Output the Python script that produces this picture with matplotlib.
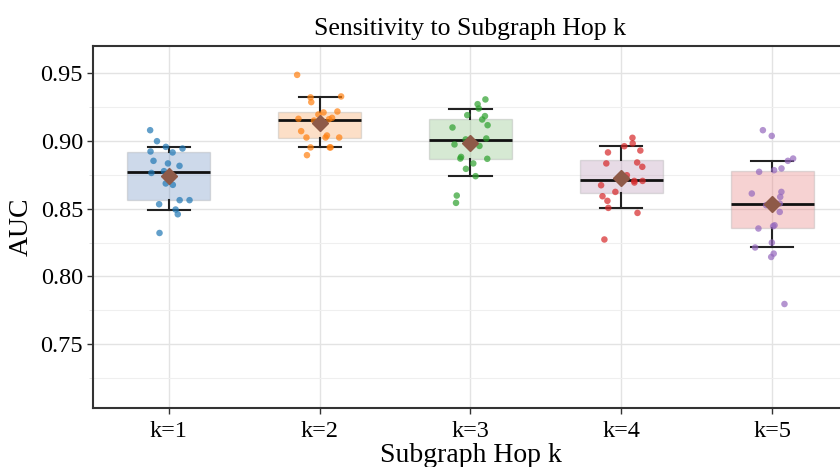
import numpy as np
import matplotlib
matplotlib.use("Agg")
import matplotlib.pyplot as plt
from matplotlib.ticker import MultipleLocator

plt.rcParams['font.family'] = ['Liberation Serif', 'DejaVu Serif']

categories = ["k=1", "k=2", "k=3", "k=4", "k=5"]

auc_k1 = [0.9079, 0.8998, 0.8944, 0.8915, 0.8922, 0.8956, 0.8834, 0.8853, 0.8816, 0.8764,
          0.8777, 0.8730, 0.8686, 0.8676, 0.8563, 0.8563, 0.8533, 0.8494, 0.8459, 0.8321]
auc_k2 = [0.9487, 0.9328, 0.9321, 0.9286, 0.9217, 0.9210, 0.9195, 0.9170, 0.9163, 0.9160,
          0.9150, 0.9072, 0.9040, 0.9025, 0.9025, 0.9025, 0.8952, 0.8952, 0.8952, 0.8895]
auc_k3 = [0.9306, 0.9271, 0.9239, 0.9183, 0.9190, 0.9158, 0.9116, 0.9099, 0.9018, 0.9011,
          0.9006, 0.8974, 0.8963, 0.8882, 0.8868, 0.8870, 0.8834, 0.8794, 0.8740, 0.8597, 0.8543]
auc_k4 = [0.9023, 0.8981, 0.8961, 0.8929, 0.8915, 0.8841, 0.8834, 0.8809, 0.8747, 0.8723,
          0.8705, 0.8705, 0.8693, 0.8673, 0.8624, 0.8592, 0.8558, 0.8506, 0.8469, 0.8273]
auc_k5 = [0.9079, 0.9037, 0.8853, 0.8870, 0.8797, 0.8772, 0.8784, 0.8624, 0.8612, 0.8587,
          0.8526, 0.8538, 0.8538, 0.8476, 0.8371, 0.8378, 0.8354, 0.8250, 0.8214, 0.8144,
          0.8169, 0.7797]

series = [auc_k1, auc_k2, auc_k3, auc_k4, auc_k5]

box_colors = ["#7092c3", "#f9a65f", "#8ac081", "#bd98b8", "#e87e7e"]
point_colors = ["#1f77b4", "#ff7f0e", "#2ca02c", "#d62728", "#9467bd"]

fig = plt.figure(figsize=(8.4, 4.67), dpi=100)
ax = fig.add_axes([0.1113, 0.1263, 0.8976, 0.7752])

positions = np.arange(len(categories))

ax.set_axisbelow(True)
ax.yaxis.set_major_locator(MultipleLocator(0.05))
ax.yaxis.set_minor_locator(MultipleLocator(0.025))
ax.grid(True, which='major', color='#e3e3e3', linewidth=1.0)
ax.grid(True, which='minor', axis='y', color='#efefef', linewidth=0.8)

bp = ax.boxplot(series, positions=positions, widths=0.55, whis=(10, 90),
                showfliers=False, patch_artist=True, showmeans=True,
                capwidths=0.28,
                medianprops=dict(color='#111111', linewidth=2.0),
                whiskerprops=dict(color='#222222', linewidth=1.5),
                capprops=dict(color='#222222', linewidth=1.5),
                boxprops=dict(edgecolor='#a8a8a8', linewidth=1.0),
                meanprops=dict(marker='D', markerfacecolor='#8e5a48',
                               markeredgecolor='#8e5a48', markersize=8.5))

for patch, c in zip(bp['boxes'], box_colors):
    patch.set_facecolor(c)
    patch.set_alpha(0.35)
    patch.set_edgecolor('#a8a8a8')
    patch.set_zorder(2)
for m in bp['medians']:
    m.set_zorder(2.6)
for m in bp['means']:
    m.set_zorder(5)

rng = np.random.default_rng(3)
for i, (vals, c) in enumerate(zip(series, point_colors)):
    xs = positions[i] + rng.uniform(-0.15, 0.15, size=len(vals))
    ax.scatter(xs, vals, s=22, color=c, alpha=0.7, edgecolors='none', zorder=3)

ax.set_xlim(-0.5, 4.5)
ax.set_ylim(0.703, 0.970)
ax.set_xticks(positions)
ax.set_xticklabels(categories)

ax.tick_params(axis='both', which='major', labelsize=17.5, color='#333333',
               length=4, width=1.0)
ax.tick_params(axis='x', which='major', pad=5)
ax.tick_params(axis='y', which='minor', length=3, color='#dddddd')
for s in ax.spines.values():
    s.set_color('#333333')
    s.set_linewidth(1.5)

ax.set_title("Sensitivity to Subgraph Hop k", fontsize=18.5, pad=8)
ax.set_ylabel("AUC", fontsize=20, labelpad=5)
ax.set_xlabel("Subgraph Hop k", fontsize=20, labelpad=1)

fig.savefig("out.png", dpi=100)
